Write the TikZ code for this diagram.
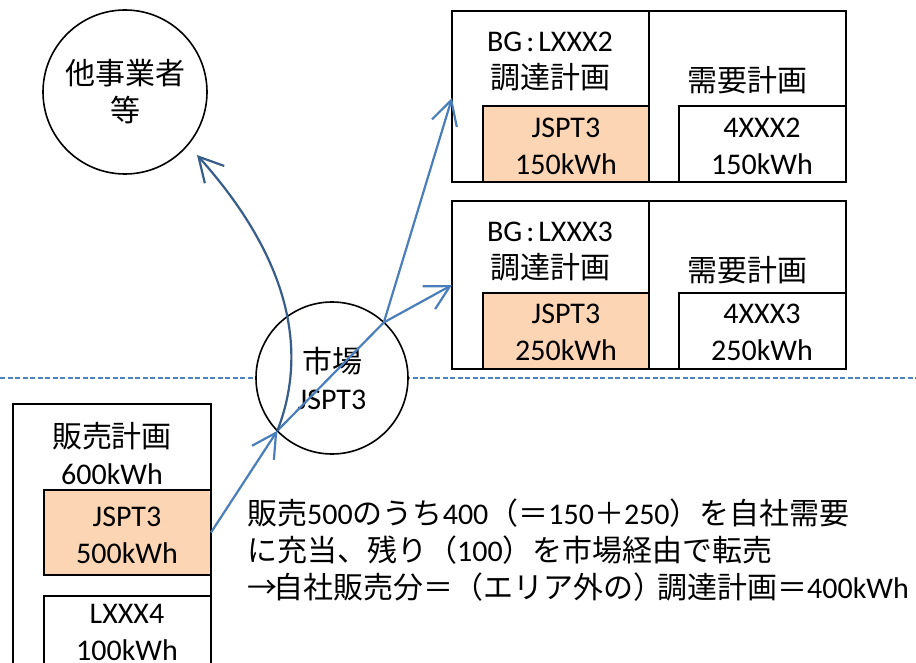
\documentclass[tikz,border=0pt]{standalone}
\usepackage{fontspec}
\setmainfont{Carlito}
\newfontfamily\jpfont{Noto Sans CJK JP}
\newcommand\jt[1]{{\jpfont #1}}
\usetikzlibrary{arrows.meta}
\definecolor{orfill}{HTML}{FCD5B5}
\definecolor{arblue}{HTML}{4A7EBB}
\definecolor{cvblue}{HTML}{385D8A}
\definecolor{dsblue}{HTML}{4F81BD}
\begin{document}
\begin{tikzpicture}[x=1pt,y=-1pt,
  box/.style={draw=black,line width=1.6pt,anchor=north west,inner sep=0pt,outer sep=0pt},
  obox/.style={box,fill=orfill},
  wbox/.style={box,fill=white},
  txt/.style={font=\fontsize{30}{37}\selectfont,align=center,inner sep=0pt},
  circ/.style={circle,draw=black,line width=1.6pt,fill=white,inner sep=0pt,outer sep=0pt,font=\fontsize{30}{37}\selectfont,align=center},
  arr/.style={draw=arblue,line width=2.2pt,-{Straight Barb[length=24pt,width=26pt,line width=2.2pt]}},
  arrline/.style={draw=arblue,line width=2.2pt},
  divider/.style={draw=black,line width=1.6pt},
]
\useasboundingbox (0,0) rectangle (916,663);
% dashed boundary
\draw[dsblue,line width=1.5pt,dash pattern=on 5pt off 2.5pt] (0,378) -- (916,378);
% circles
\node[circ,minimum size=164pt] (oth) at (125,92) {\jt{他事業者}\\\jt{等}};
\node[circ,minimum size=152pt] (mkt) at (332,378) {\jt{市場}\\JSPT3};
% group 1
\node[box,minimum width=394pt,minimum height=171pt] (g1) at (452,11) {};
\draw[divider] (649,11) -- (649,182);
\node[obox,minimum width=166pt,minimum height=76pt] (o1) at (483,106) {};
\node[wbox,minimum width=167pt,minimum height=76pt] (w1) at (679,106) {};
% group 2
\node[box,minimum width=394pt,minimum height=168pt] (g2) at (452,201) {};
\draw[divider] (649,201) -- (649,369);
\node[obox,minimum width=166pt,minimum height=76pt] (o2) at (483,293) {};
\node[wbox,minimum width=167pt,minimum height=76pt] (w2) at (679,293) {};
% left
\node[box,minimum width=198pt,minimum height=300pt] (L) at (13,404) {};
\node[obox,minimum width=167pt,minimum height=85pt] (o3) at (44,490) {};
\node[wbox,minimum width=167pt,minimum height=100pt] (w3) at (44,596) {};
% texts
\node[txt] (t1) at (550,62) {BG\hspace{4pt}:\hspace{4pt}LXXX2\\\jt{調達計画}};
\node[txt] (t2) at (747,80) {\jt{需要計画}};
\node[txt] (t3) at (566,146) {JSPT3\\150kWh};
\node[txt] (t4) at (762,146) {4XXX2\\150kWh};
\node[txt] (t5) at (550,252) {BG\hspace{4pt}:\hspace{4pt}LXXX3\\\jt{調達計画}};
\node[txt] (t6) at (747,270) {\jt{需要計画}};
\node[txt] (t7) at (566,332) {JSPT3\\250kWh};
\node[txt] (t8) at (762,332) {4XXX3\\250kWh};
\node[txt] (t9) at (112,454) {\jt{販売計画}\\600kWh};
\node[txt] (t10) at (127,535) {JSPT3\\500kWh};
\node[txt] (t11) at (127,632) {LXXX4\\100kWh};
\node[txt,align=left,anchor=west] (note) at (247,550) {\jt{販売}500\jt{のうち}400\jt{（＝}150\jt{＋}250\jt{）を自社需要}\\\jt{に充当、残り（}100\jt{）を市場経由で転売}\\\jt{→}\kern-4pt\jt{自社販売分＝（エリア外の）}\kern-6pt\jt{調達計画＝}400kWh};
% connectors
\coordinate (e1) at (452,98);
\coordinate (e2) at (452,285);
\coordinate (e3) at (197,155);
\draw[arr] (o3.east) -- (mkt.224);
\draw[arrline] (mkt.224) -- (mkt.47);
\draw[arr] (mkt.47) -- (e1);
\draw[arr] (mkt.47) -- (e2);
\draw[arr,draw=cvblue] (mkt.224) .. controls (305,360) and (298,268) .. (e3);
\end{tikzpicture}
\end{document}
